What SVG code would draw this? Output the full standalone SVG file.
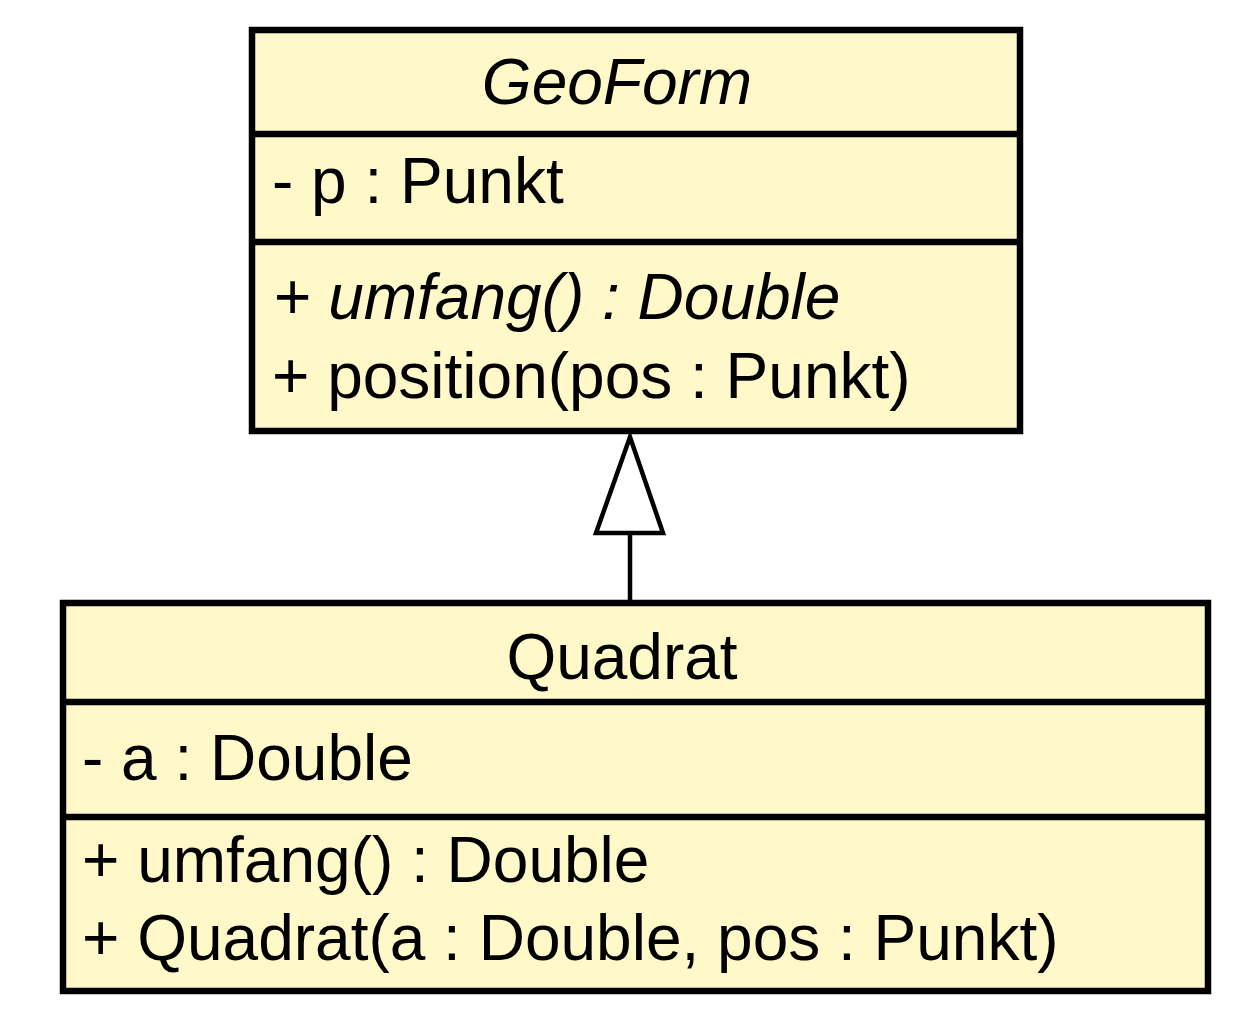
<svg xmlns="http://www.w3.org/2000/svg" width="1260" height="1012" viewBox="0 0 1260 1012">
<style>
.box{fill:#FFF9C9;stroke:#000;stroke-width:6.5}
.div{stroke:#000;stroke-width:6.5}
.t{font-family:"Liberation Sans",Arial,sans-serif;font-size:64px;fill:#000}
.i{font-style:italic}
.c{text-anchor:middle}
</style>
<rect width="1260" height="1012" fill="#fff"/>
<g id="GeoForm">
<rect class="box" x="252" y="30" width="768" height="401"/>
<line class="div" x1="252" y1="134" x2="1020" y2="134"/>
<line class="div" x1="252" y1="242" x2="1020" y2="242"/>
<text class="t i c" x="617" y="104">GeoForm</text>
<text class="t" x="272" y="203">- p : Punkt</text>
<text class="t i" x="273" y="319">+ umfang() : Double</text>
<text class="t" x="272" y="398">+ position(pos : Punkt)</text>
</g>
<g id="Quadrat">
<rect class="box" x="63" y="603" width="1145" height="388"/>
<line class="div" x1="63" y1="702" x2="1208" y2="702"/>
<line class="div" x1="63" y1="817" x2="1208" y2="817"/>
<text class="t c" x="622" y="679">Quadrat</text>
<text class="t" x="82" y="780">- a : Double</text>
<text class="t" x="82" y="882">+ umfang() : Double</text>
<text class="t" x="82" y="960">+ Quadrat(a : Double, pos : Punkt)</text>
</g>
<g id="connectors">
<line x1="630" y1="533" x2="630" y2="600" stroke="#000" stroke-width="4.5"/>
<polygon points="630,437 596,533 663,533" fill="#fff" stroke="#000" stroke-width="4.5" stroke-linejoin="miter"/>
</g>
</svg>
